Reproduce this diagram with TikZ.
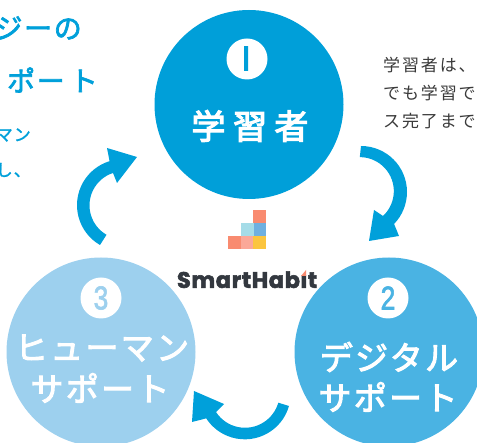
\documentclass[tikz,border=0pt]{standalone}
\usepackage{fontspec}
\setmainfont{Noto Sans CJK JP}
\newfontfamily\numfont{Liberation Sans}[FakeBold=2]
\newfontfamily\onefont{TeX Gyre Heros}[UprightFont=* Bold]
\newfontfamily\logofont{Poppins}[UprightFont=* Bold,FakeBold=2.5,LetterSpace=3]
\newfontfamily\bigjp{Noto Sans CJK JP}[FakeBold=3.5,LetterSpace=22]
\newfontfamily\tightjp{Noto Sans CJK JP}[FakeBold=3,LetterSpace=7]
\newfontfamily\headjp{Noto Sans CJK JP}[FakeBold=2.5,LetterSpace=6]
\newfontfamily\smalljp{Noto Sans CJK JP}[FakeBold=1.5,LetterSpace=6]
\newfontfamily\bodyjp{Noto Sans CJK JP}[LetterSpace=11]
\definecolor{cOne}{HTML}{009FD9}
\definecolor{cTwo}{HTML}{4AB3E3}
\definecolor{cThree}{HTML}{9DD0EE}
\definecolor{cArrow}{HTML}{00A0DA}
\definecolor{cDark}{HTML}{3A3A3A}
\definecolor{cLogo}{HTML}{33383F}
\definecolor{cSalmon}{HTML}{F98B70}
\definecolor{cPink}{HTML}{FBA898}
\definecolor{cPale}{HTML}{A5DCE8}
\definecolor{cMid}{HTML}{6FB0E0}
\definecolor{cYellow}{HTML}{FBC53F}
\tikzset{
  bigcircle/.style={circle,inner sep=0pt,minimum size=189pt},
  numdisc/.style={circle,fill=white,inner sep=0pt,minimum size=41pt},
  numtext/.style={font=\numfont\fontsize{33}{33}\selectfont,inner sep=0pt,xscale=.8},
  bigtext/.style={text=white,inner sep=0pt,font=\bigjp\fontsize{34}{34}\selectfont},
  subtext/.style={text=white,inner sep=0pt,font=\tightjp\fontsize{33}{33}\selectfont},
  headtext/.style={text=cArrow,inner sep=0pt,anchor=east,font=\headjp\fontsize{28}{28}\selectfont},
  smalltext/.style={text=cArrow,inner sep=0pt,anchor=east,font=\smalljp\fontsize{17}{17}\selectfont},
  bodytext/.style={text=cDark,inner sep=0pt,anchor=west,font=\bodyjp\fontsize{17}{17}\selectfont},
  cyclearrow/.style={fill=cArrow,draw=none},
  logosq/.style={draw=none}
}
\begin{document}
\begin{tikzpicture}[x=1pt,y=-1pt]
\useasboundingbox (0,0) rectangle (477,443);
\clip (0,0) rectangle (477,443);
\node[bigcircle,fill=cOne] (learner) at (249,104.5) {};
\node[bigcircle,fill=cTwo] (digital) at (389,352) {};
\node[bigcircle,fill=cThree] (human) at (101,352) {};
\node[numdisc] (nOne) at (247,59) {};
\node[numdisc] (nTwo) at (388,298) {};
\node[numdisc] (nThree) at (101,298) {};
\begin{scope}
\clip (244.5,47) rectangle (248.8,71);
\node[inner sep=0pt,text=cOne,font=\onefont\fontsize{40}{40}\selectfont] (dOne) at (244.6,59) {1};
\end{scope}
\node[numtext,text=cTwo] (dTwo) at (388,298) {2};
\node[numtext,text=cThree] (dThree) at (101,298) {3};
\node[bigtext] (tOne) at (250,126) {学習者};
\node[subtext] (tTwoA) at (389,357) {デジタル};
\node[subtext] (tTwoB) at (388,397) {サポート};
\node[subtext] (tThreeA) at (102,348) {ヒューマン};
\node[subtext] (tThreeB) at (100,388) {サポート};
\node[headtext] (hA) at (82,28) {ジーの};
\node[headtext] (hB) at (98,80) {ポー\kern5ptト};
\node[smalltext] (sA) at (31,135) {マン};
\node[smalltext] (sB) at (31,170) {し、};
\node[bodytext] (bA) at (383,65) {学習者は、};
\node[bodytext] (bB) at (383,93) {でも学習で};
\node[bodytext] (bC) at (383,121) {ス完了まで};
% arrows
\fill[cyclearrow] (361,146) arc[start angle=-90,end angle=44,radius=46] -- (399,236) -- (369,241) -- (374,210) -- (383,216) arc[start angle=47,end angle=-90,radius=34] -- cycle;
\fill[cyclearrow] (289,406) arc[start angle=16,end angle=147,radius=46] -- (192,422) -- (194,391) -- (224,404) -- (216,412) arc[start angle=147,end angle=16,radius=34.6] -- cycle;
\fill[cyclearrow] (100,245) arc[start angle=120,end angle=253,radius=46] -- (107,148) -- (137,157) -- (117,183) -- (113,173) arc[start angle=252,end angle=120,radius=34] -- cycle;
% logo
\fill[logosq,cSalmon] (253,210) rectangle (266,223);
\fill[logosq,cPale] (241,223) rectangle (254,236);
\fill[logosq,cMid] (254,223) rectangle (266,236);
\fill[logosq,cSalmon] (228,236) rectangle (241,249);
\fill[logosq,cPink] (241,236) rectangle (253,249);
\fill[logosq,cYellow] (253,236) rectangle (266,249);
\node[inner sep=0pt,text=cLogo] (logo) at (247,279) {\resizebox{140pt}{!}{\logofont SmartHabit}};
\fill[white] (298,266) rectangle (308,275.5);
\fill[cSalmon] (301,276) -- (306,270) -- (306,276) -- cycle;
\end{tikzpicture}
\end{document}
